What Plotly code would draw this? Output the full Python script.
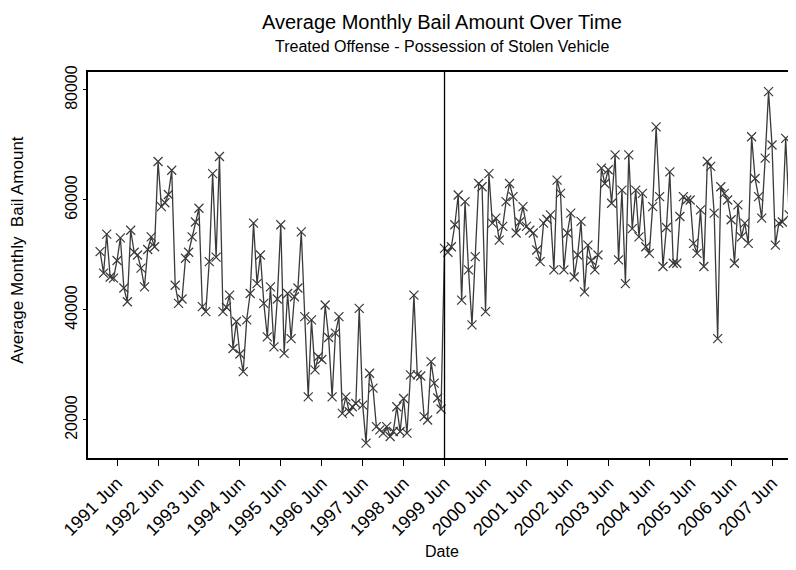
import plotly.graph_objects as go
import pandas as pd

start_month = "1991-01-01"
bail_amount = [
    # 1991
    50600, 46700, 53800, 46000, 45800, 49000, 53100, 44000, 41500, 54500, 50500, 50000,
    # 1992
    47600, 44200, 51000, 53300, 51500, 67000, 58800, 59500, 61000, 65400, 44500, 41200,
    # 1993
    42000, 49400, 50500, 53300, 56000, 58500, 40600, 39700, 48800, 64800, 49600, 67900,
    # 1994
    39700, 40500, 42700, 33000, 37900, 32000, 28800, 38200, 43000, 55800, 44800, 50000,
    # 1995
    41200, 35100, 44200, 33300, 42000, 55500, 32100, 43000, 34800, 42400, 44000, 54200,
    # 1996
    38800, 24200, 38200, 29100, 31500, 31000, 40900, 35000, 24200, 35800, 38800, 21200,
    # 1997
    24200, 21500, 22400, 23000, 40300, 22700, 15800, 28500, 25800, 18800, 18200, 17600,
    # 1998
    18800, 17000, 17900, 22400, 17900, 23900, 17600, 28200, 42700, 28200, 28000, 20600,
    # 1999
    20000, 30600, 26700, 24000, 22000, 51200, 50500, 51500, 55500, 60900, 41800, 59700,
    # 2000
    47300, 37300, 49700, 63000, 62400, 39700, 64800, 55800, 56700, 52700, 55200, 59700,
    # 2001
    63000, 60600, 54000, 56000, 58800, 55200, 54500, 54000, 50900, 48800, 55800, 56500,
    # 2002
    57300, 47300, 63600, 61200, 47300, 54000, 57600, 46000, 50000, 56100, 43300, 51800,
    # 2003
    49000, 47300, 50000, 65800, 63000, 65500, 59400, 68200, 49100, 61800, 44800, 68200,
    # 2004
    54800, 61800, 53300, 61200, 51500, 50300, 58800, 73300, 60600, 47900, 55000, 65100,
    # 2005
    48500, 48500, 57000, 60600, 60000, 60000, 52100, 50300, 58200, 47900, 67000, 66100,
    # 2006
    57600, 34800, 62400, 61200, 60000, 56400, 48500, 59100, 53300, 55800, 52100, 71500,
    # 2007
    63900, 60600, 56700, 67600, 79700, 70000, 51800, 55800, 56000, 71200, 57300, 59100,
]
dates = pd.date_range(start_month, periods=len(bail_amount), freq="MS")

tick_years = list(range(1991, 2008))
tick_vals = [f"{y}-06-01" for y in tick_years]
tick_text = [f"{y} Jun" for y in tick_years]
intervention_date = "1999-06-01"
y_ticks = [20000, 40000, 60000, 80000]

title_text = "Average Monthly Bail Amount Over Time"
subtitle_text = "Treated Offense - Possession of Stolen Vehicle"
x_title = "Date"
y_title = "Average Monthly  Bail Amount"

FONT = "Liberation Sans, Arial, sans-serif"
INK = "#3a3a3a"

fig = go.Figure()
fig.add_trace(go.Scatter(
    x=dates, y=bail_amount, mode="lines+markers",
    line=dict(color=INK, width=1.3),
    marker=dict(symbol="x-thin", size=9, line=dict(color=INK, width=1.2)),
    showlegend=False,
))
fig.add_shape(type="line", xref="x", yref="paper",
              x0=intervention_date, x1=intervention_date, y0=0, y1=1,
              line=dict(color="black", width=1.3))

annos = [
    dict(text=title_text, x=0.50, y=1.163, yanchor="top", font=dict(size=20)),
    dict(text=subtitle_text, x=0.50, y=1.065, yanchor="middle", font=dict(size=16)),
    dict(text=x_title, x=0.50, y=-0.2435, yanchor="middle", font=dict(size=16)),
    dict(text=y_title, x=-0.099, y=0.539, yanchor="middle", font=dict(size=17), textangle=-90),
]
for a in annos:
    fig.add_annotation(xref="paper", yref="paper", showarrow=False,
                       xanchor="center", **a)

# page body has an 8px default margin; the figure is sized to compensate
fig.update_layout(
    width=788, height=562,
    margin=dict(l=80, r=0, t=64, b=112),
    paper_bgcolor="white", plot_bgcolor="white",
    font=dict(family=FONT, color="black", size=15),
    xaxis=dict(
        type="date", range=["1990-09-15", "2008-01-01"], automargin=False,
        tickmode="array", tickvals=tick_vals, ticktext=tick_text,
        tickangle=-45, ticks="outside", ticklen=6, tickcolor="black",
        showline=True, linecolor="black", linewidth=1.5, mirror=True,
        showgrid=False, zeroline=False,
        tickfont=dict(size=18),
    ),
    yaxis=dict(
        range=[13090, 83270], automargin=False,
        tickmode="array", tickvals=y_ticks,
        ticktext=[str(v) for v in y_ticks],
        tickangle=-90, ticks="outside", ticklen=3, tickcolor="black",
        showline=True, linecolor="black", linewidth=1.5,
        showgrid=False, zeroline=False,
        tickfont=dict(size=16),
    ),
)
fig.write_html("out.html")
